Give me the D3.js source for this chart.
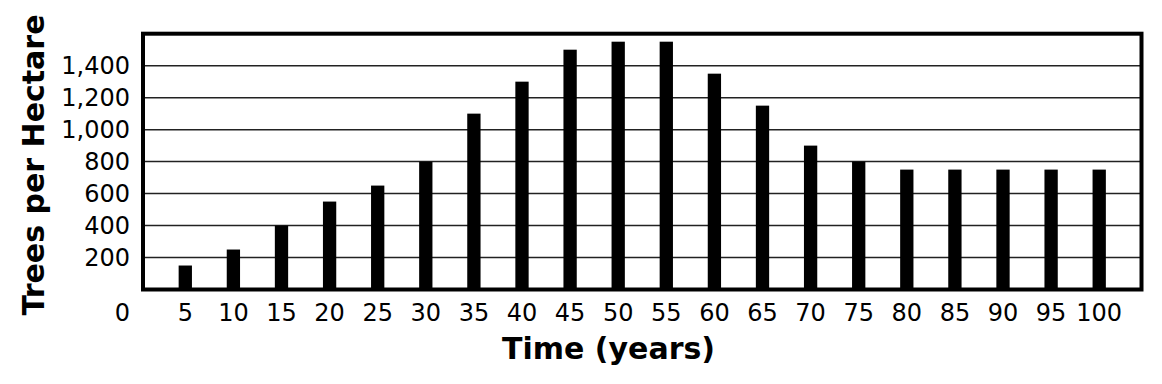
<!DOCTYPE html>
<html>
<head>
<meta charset="utf-8">
<script src="https://cdn.jsdelivr.net/npm/d3@7"></script>
<style>
body { margin: 0; background: #fff; }
text { font-family: "DejaVu Sans", Verdana, sans-serif; fill: #000; }
.tick text { font-size: 24px; }
.title { font-size: 30px; font-weight: bold; }
</style>
</head>
<body>
<div id="chart"></div>
<script>
// data
var years = [5, 10, 15, 20, 25, 30, 35, 40, 45, 50, 55, 60, 65, 70, 75, 80, 85, 90, 95, 100];
var trees = [150, 250, 400, 550, 650, 800, 1100, 1300, 1500, 1550, 1550, 1350, 1150, 900, 800, 750, 750, 750, 750, 750];
var yTicks = [200, 400, 600, 800, 1000, 1200, 1400];

var W = 1162, H = 384;
var plotLeft = 143, plotRight = 1141.5, plotTop = 33.7, plotBottom = 289.5;

var svg = d3.select("#chart").append("svg")
    .attr("width", W).attr("height", H);

var x = d3.scaleBand()
    .domain(years)
    .range([plotLeft, plotRight])
    .paddingInner(0.7235)
    .paddingOuter(0.741);

var y = d3.scaleLinear()
    .domain([0, 1600])
    .range([plotBottom, plotTop]);

// grid lines
svg.append("g")
    .selectAll("line")
    .data(yTicks)
    .enter()
    .append("line")
    .attr("x1", plotLeft).attr("x2", plotRight)
    .attr("y1", function (d) { return y(d); })
    .attr("y2", function (d) { return y(d); })
    .attr("stroke", "#222")
    .attr("stroke-width", 1.5);

// bars
svg.append("g")
    .selectAll("rect")
    .data(years)
    .enter()
    .append("rect")
    .attr("x", function (d) { return x(d); })
    .attr("width", x.bandwidth())
    .attr("y", function (d, i) { return y(trees[i]); })
    .attr("height", function (d, i) { return y(0) - y(trees[i]); })
    .attr("fill", "#000");

// frame
svg.append("rect")
    .attr("x", plotLeft).attr("y", plotTop)
    .attr("width", plotRight - plotLeft).attr("height", plotBottom - plotTop)
    .attr("fill", "none")
    .attr("stroke", "#000")
    .attr("stroke-width", 4);

// axes (labels only)
var xAxis = svg.append("g")
    .attr("transform", "translate(0," + plotBottom + ")")
    .call(d3.axisBottom(x).tickSize(0).tickPadding(14.5));
xAxis.select(".domain").remove();

var yAxis = svg.append("g")
    .attr("transform", "translate(" + plotLeft + ",0)")
    .call(d3.axisLeft(y).tickValues(yTicks).tickFormat(d3.format(",")).tickSize(0).tickPadding(13));
yAxis.select(".domain").remove();

// origin label
svg.append("text")
    .attr("x", 130).attr("y", 321)
    .attr("text-anchor", "end")
    .style("font-size", "24px")
    .text("0");

// axis titles
svg.append("text")
    .attr("class", "title")
    .attr("x", 608.5).attr("y", 359)
    .attr("text-anchor", "middle")
    .text("Time (years)");

svg.append("text")
    .attr("class", "title")
    .attr("transform", "translate(44,165) rotate(-90)")
    .attr("text-anchor", "middle")
    .text("Trees per Hectare");
</script>
</body>
</html>
